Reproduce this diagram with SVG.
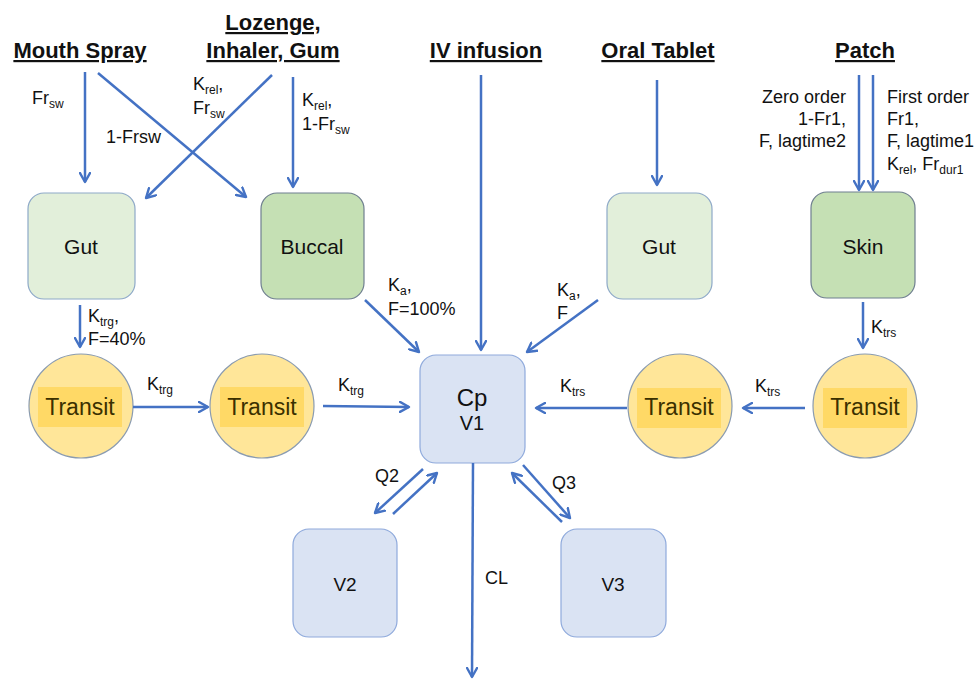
<svg xmlns="http://www.w3.org/2000/svg" width="979" height="681" viewBox="0 0 979 681">
<defs>
<marker id="ah" viewBox="0 0 12 12" refX="10" refY="6" markerWidth="12" markerHeight="12" markerUnits="userSpaceOnUse" orient="auto">
<path d="M1,1 L10,6 L1,11" fill="none" stroke="#4472c4" stroke-width="2.4" stroke-linecap="round" stroke-linejoin="round"/>
</marker>
<style>
text{font-family:"Liberation Sans",Arial,sans-serif;fill:#111}
.h{font-size:22px;font-weight:bold;text-anchor:middle;text-decoration:underline}
.n{font-size:21px;text-anchor:middle}
.l{font-size:18px}
.s{font-size:12px}
.c{fill:none;stroke:#4472c4;stroke-width:2.5;marker-end:url(#ah)}
.g1{fill:#e2efda;stroke:#8ea9c8;stroke-width:1.2}
.g2{fill:#c5e0b4;stroke:#6f7f8f;stroke-width:1.2}
.b{fill:#dae3f3;stroke:#8faadc;stroke-width:1.2}
.t{fill:#ffe699;stroke:#8a9bb0;stroke-width:1.2}
.ti{fill:#ffd966}
.tt{font-size:23px;text-anchor:middle;fill:#3a3000}
</style>
</defs>
<rect width="979" height="681" fill="#fff"/>

<g id="headings">
<text class="h" x="80" y="58">Mouth Spray</text>
<text class="h" x="273" y="30">Lozenge,</text>
<text class="h" x="273" y="58">Inhaler, Gum</text>
<text class="h" x="486" y="58">IV infusion</text>
<text class="h" x="658" y="58">Oral Tablet</text>
<text class="h" x="865" y="58">Patch</text>
</g>

<g id="gut1"><rect class="g1" x="28" y="193" width="107" height="106" rx="16"/><text class="n" x="81" y="254">Gut</text></g>
<g id="buccal"><rect class="g2" x="261" y="193" width="103" height="106" rx="16"/><text class="n" x="312" y="254">Buccal</text></g>
<g id="gut2"><rect class="g1" x="607" y="193" width="105" height="106" rx="16"/><text class="n" x="659" y="254">Gut</text></g>
<g id="skin"><rect class="g2" x="811" y="192" width="104" height="106" rx="16"/><text class="n" x="863" y="254">Skin</text></g>

<g id="transit1"><circle class="t" cx="81" cy="406" r="52"/><rect class="ti" x="38" y="387" width="84" height="40"/><text class="tt" x="80" y="415">Transit</text></g>
<g id="transit2"><circle class="t" cx="262" cy="406" r="52"/><rect class="ti" x="220" y="387" width="84" height="40"/><text class="tt" x="262" y="415">Transit</text></g>
<g id="transit3"><circle class="t" cx="680" cy="406" r="52"/><rect class="ti" x="637" y="388" width="84" height="40"/><text class="tt" x="679" y="415">Transit</text></g>
<g id="transit4"><circle class="t" cx="865" cy="406" r="52"/><rect class="ti" x="823" y="388" width="84" height="40"/><text class="tt" x="865" y="415">Transit</text></g>

<g id="cp"><rect class="b" x="420" y="355" width="105" height="108" rx="16"/><text x="472" y="406" style="font-size:24px;text-anchor:middle">Cp</text><text x="472" y="430" style="font-size:20px;text-anchor:middle">V1</text></g>
<g id="v2"><rect class="b" x="293" y="529" width="104" height="108" rx="16"/><text class="n" x="345" y="591" style="font-size:19px">V2</text></g>
<g id="v3"><rect class="b" x="561" y="529" width="105" height="108" rx="16"/><text class="n" x="613" y="591" style="font-size:19px">V3</text></g>

<g id="connectors">
<path class="c" d="M85,72 L85,182"/>
<path class="c" d="M98,73 L246,197"/>
<path class="c" d="M272,75 L146,198"/>
<path class="c" d="M293,77 L293,187"/>
<path class="c" d="M481,75 L481,350"/>
<path class="c" d="M657,80 L657,185"/>
<path class="c" d="M859,75 L859,190"/>
<path class="c" d="M873,75 L873,190"/>
<path class="c" d="M80,305 L80,347"/>
<path class="c" d="M365,300 L419,352"/>
<path class="c" d="M598,300 L527,352"/>
<path class="c" d="M133,407 L208,407"/>
<path class="c" d="M323,406 L409,407"/>
<path class="c" d="M627,408 L536,408"/>
<path class="c" d="M805,408 L743,408"/>
<path class="c" d="M863,302 L863,348"/>
<path class="c" d="M423,469 L375,513"/>
<path class="c" d="M393,514 L437,473"/>
<path class="c" d="M562,522 L512,473"/>
<path class="c" d="M523,465 L570,518"/>
<path class="c" d="M473,463 L472,677"/>
</g>

<g id="labels">
<text class="l" x="32" y="104">Fr<tspan class="s" dy="4">sw</tspan></text>
<text class="l" x="106" y="143">1-Frsw</text>
<text class="l" x="193" y="90">K<tspan class="s" dy="4">rel</tspan><tspan dy="-4">,</tspan></text>
<text class="l" x="193" y="114">Fr<tspan class="s" dy="4">sw</tspan></text>
<text class="l" x="302" y="106">K<tspan class="s" dy="4">rel</tspan><tspan dy="-4">,</tspan></text>
<text class="l" x="302" y="130">1-Fr<tspan class="s" dy="4">sw</tspan></text>
<text class="l" x="846" y="103" text-anchor="end">Zero order</text>
<text class="l" x="846" y="125" text-anchor="end">1-Fr1,</text>
<text class="l" x="846" y="147" text-anchor="end">F, lagtime2</text>
<text class="l" x="887" y="103">First order</text>
<text class="l" x="887" y="125">Fr1,</text>
<text class="l" x="887" y="147">F, lagtime1</text>
<text class="l" x="887" y="170">K<tspan class="s" dy="4">rel</tspan><tspan dy="-4">, Fr</tspan><tspan class="s" dy="4">dur1</tspan></text>
<text class="l" x="88" y="322">K<tspan class="s" dy="4">trg</tspan><tspan dy="-4">,</tspan></text>
<text class="l" x="88" y="345">F=40%</text>
<text class="l" x="388" y="291">K<tspan class="s" dy="4">a</tspan><tspan dy="-4">,</tspan></text>
<text class="l" x="388" y="315">F=100%</text>
<text class="l" x="557" y="296">K<tspan class="s" dy="4">a</tspan><tspan dy="-4">,</tspan></text>
<text class="l" x="557" y="319">F</text>
<text class="l" x="147" y="390">K<tspan class="s" dy="4">trg</tspan></text>
<text class="l" x="338" y="391">K<tspan class="s" dy="4">trg</tspan></text>
<text class="l" x="560" y="392">K<tspan class="s" dy="4">trs</tspan></text>
<text class="l" x="755" y="392">K<tspan class="s" dy="4">trs</tspan></text>
<text class="l" x="871" y="333">K<tspan class="s" dy="4">trs</tspan></text>
<text class="l" x="375" y="482">Q2</text>
<text class="l" x="552" y="489">Q3</text>
<text class="l" x="485" y="584">CL</text>
</g>
</svg>
